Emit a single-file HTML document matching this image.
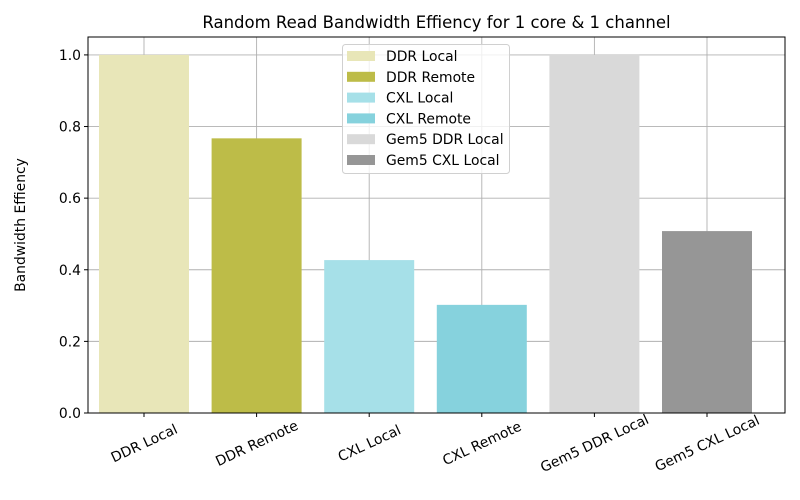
<!DOCTYPE html>
<html><head><meta charset="utf-8"><style>
body{margin:0;background:#fff}
svg{display:block;font-family:"DejaVu Sans","Liberation Sans",sans-serif}
</style></head><body>
<svg id="chart" width="800" height="500"></svg>
<script>
const categories=["DDR Local","DDR Remote","CXL Local","CXL Remote","Gem5 DDR Local","Gem5 CXL Local"];
const values=[1.0,0.767,0.427,0.302,1.0,0.508];
const colors=["#e8e6b8","#bdbc48","#a6e0e8","#86d2dd","#d9d9d9","#969696"];
const yTicks=[0,0.2,0.4,0.6,0.8,1.0];
const yTickLabels=["0.0","0.2","0.4","0.6","0.8","1.0"];
const NS="http://www.w3.org/2000/svg";
const svg=document.getElementById("chart");
const L=88,R=785,T=37,B=413;
const yScale=v=>B-v*(B-T)/1.05;
const step=112.6,x0=144;
const xScale=i=>x0+i*step;
const bw=90;
function mk(t,a,p){const e=document.createElementNS(NS,t);for(const k in a)e.setAttribute(k,a[k]);(p||svg).appendChild(e);return e;}
const title=mk("text",{x:(L+R)/2,y:28,"text-anchor":"middle","font-size":16.5,fill:"#000"});
title.textContent="Random Read Bandwidth Effiency for 1 core & 1 channel";


yTicks.forEach((t,i)=>{
 const y=yScale(t);
 const g=mk("line",{x1:L,x2:R,y1:y,y2:y,stroke:"#b0b0b0","stroke-width":0.9});
 
 
 const tk=mk("line",{x1:L-4,x2:L,y1:y,y2:y,stroke:"#000"});
 
 
 const lb=mk("text",{x:L-7,y:y+5,"text-anchor":"end","font-size":13.9});
 lb.textContent=yTickLabels[i];
 
 
});
categories.forEach((c,i)=>{
 const x=xScale(i);
 const g=mk("line",{x1:x,x2:x,y1:T,y2:B,stroke:"#b0b0b0","stroke-width":0.9});
 
 
});
categories.forEach((c,i)=>{
 const x=xScale(i);
 const r=mk("rect",{x:x-bw/2,y:yScale(values[i]),width:bw,height:B-yScale(values[i]),fill:colors[i]});
 
 
 const tk=mk("line",{x1:x,x2:x,y1:B,y2:B+4,stroke:"#000"});
 
 
 const lb=mk("text",{x:0,y:5,"text-anchor":"middle","font-size":13.9,transform:`translate(${x},${B+30}) rotate(-25)`});
 lb.textContent=c;
 
 
});
const frame=mk("rect",{x:L,y:T,width:R-L,height:B-T,fill:"none",stroke:"#000","stroke-width":1});


const yl=mk("text",{x:0,y:0,"text-anchor":"middle","font-size":13.9,transform:`translate(25,${(T+B)/2}) rotate(-90)`});
yl.textContent="Bandwidth Effiency";


const lg=mk("g",{});


mk("rect",{x:342.5,y:44.5,width:167,height:129,rx:3,fill:"#fff","fill-opacity":0.8,stroke:"#d0d0d0"},lg);
categories.forEach((c,i)=>{
 const y=56+i*20.8;
 const e=mk("g",{},lg);
 
 
 mk("rect",{x:347,y:y-5,width:28,height:10,fill:colors[i]},e);
 const t=mk("text",{x:386,y:y+5,"font-size":13.9},e);
 t.textContent=c;
});
</script>
</body></html>
